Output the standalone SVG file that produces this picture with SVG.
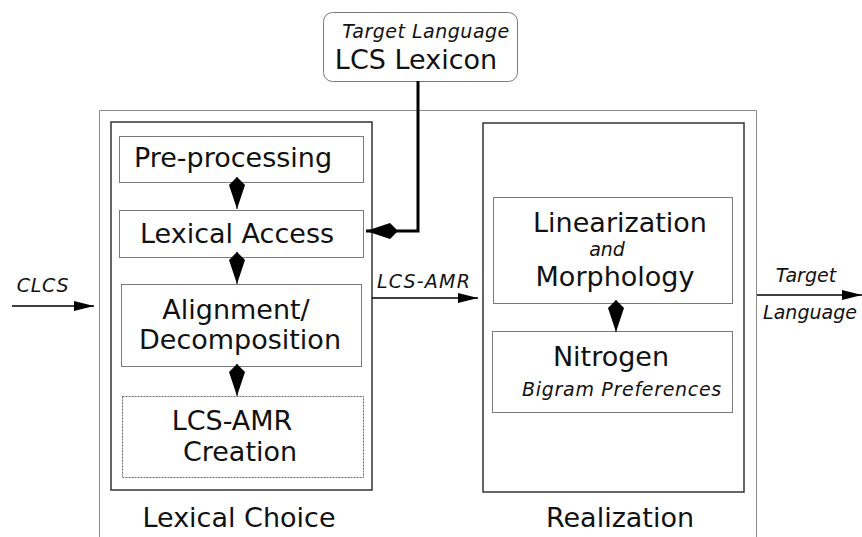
<svg xmlns="http://www.w3.org/2000/svg" width="862" height="537" viewBox="0 0 862 537">
  <style>
    .bg { fill: #ffffff; }
    .frame { fill: none; stroke: #8a8a8a; stroke-width: 1; }
    .stage { fill: none; stroke: #333333; stroke-width: 1.5; }
    .box { fill: #ffffff; stroke: #7a7a7a; stroke-width: 1; }
    .dotbox { fill: #ffffff; stroke: #6a6a6a; stroke-width: 1; stroke-dasharray: 2 1; }
    .t { font-family: "DejaVu Sans", Verdana, sans-serif; font-size: 27px; fill: #111111; text-anchor: middle; }
    .it { font-family: "DejaVu Sans", Verdana, sans-serif; font-style: italic; font-size: 19px; fill: #111111; text-anchor: middle; }
    .flow { fill: none; stroke: #000000; stroke-width: 1.5; }
    .feed { fill: none; stroke: #000000; stroke-width: 3; }
    .vlink { fill: none; stroke: #000000; stroke-width: 1; }
  </style>
  <defs>
    <marker id="tri" markerUnits="userSpaceOnUse" viewBox="0 -6 20 12" refX="20" refY="0" markerWidth="20" markerHeight="12" orient="auto">
      <path d="M0,-5 L20,0 L0,5 Z" fill="#000"/>
    </marker>
    <marker id="kite" markerUnits="userSpaceOnUse" viewBox="0 -8 32 16" refX="32" refY="0" markerWidth="32" markerHeight="16" orient="auto">
      <path d="M32,0 L8,-8 L0,0 L8,8 Z" fill="#000"/>
    </marker>
  </defs>

  <rect class="bg" x="0" y="0" width="862" height="537"/>

  <!-- system frame, open at the bottom -->
  <g id="system-frame">
    <path class="frame" d="M99.5,537 V110.5 H756.5 V537"/>
  </g>

  <!-- external lexicon -->
  <g id="lcs-lexicon">
    <rect class="box" x="323.5" y="12.5" width="194" height="69" rx="9" stroke="#666"/>
    <text class="it" x="426" y="38" letter-spacing="0.5">Target Language</text>
    <text class="t" x="416" y="69">LCS Lexicon</text>
  </g>

  <!-- lexical choice stage -->
  <g id="lexical-choice">
    <rect class="stage" x="111" y="122" width="261" height="368"/>
    <text class="t" x="239" y="527">Lexical Choice</text>
  </g>
  <g id="pre-processing">
    <rect class="box" x="119.5" y="136.5" width="244" height="46"/>
    <text class="t" x="233" y="167">Pre-processing</text>
  </g>
  <g id="lexical-access">
    <rect class="box" x="119.5" y="210.5" width="244" height="47"/>
    <text class="t" x="237" y="243">Lexical Access</text>
  </g>
  <g id="alignment">
    <rect class="box" x="121.5" y="284.5" width="240" height="82"/>
    <text class="t" x="236" y="319">Alignment/</text>
    <text class="t" x="240" y="349">Decomposition</text>
  </g>
  <g id="lcs-amr-creation">
    <rect class="dotbox" x="122.5" y="396.5" width="241" height="81"/>
    <text class="t" x="232" y="430" font-size="26">LCS-AMR</text>
    <text class="t" x="240" y="461" font-size="26">Creation</text>
  </g>

  <!-- realization stage -->
  <g id="realization">
    <rect class="stage" x="483" y="123" width="261" height="369"/>
    <text class="t" x="620" y="527">Realization</text>
  </g>
  <g id="linearization">
    <rect class="box" x="493.5" y="197.5" width="239" height="106"/>
    <text class="t" x="620" y="232">Linearization</text>
    <text class="it" x="607" y="256" font-size="17">and</text>
    <text class="t" x="615" y="286">Morphology</text>
  </g>
  <g id="nitrogen">
    <rect class="box" x="492.5" y="331.5" width="240" height="81"/>
    <text class="t" x="611" y="366">Nitrogen</text>
    <text class="it" x="622" y="396" letter-spacing="0.7">Bigram Preferences</text>
  </g>

  <!-- connectors -->
  <g id="connectors">
    <path class="vlink" d="M237,177 V209" marker-end="url(#kite)"/>
    <path class="vlink" d="M237,252 V284" marker-end="url(#kite)"/>
    <path class="vlink" d="M237,364 V396" marker-end="url(#kite)"/>
    <path class="vlink" d="M616,300 V332" marker-end="url(#kite)"/>
    <path class="feed" d="M418,81 V231 H366" marker-end="url(#kite)"/>
    <path class="flow" d="M12,306 H94" marker-end="url(#tri)"/>
    <path class="flow" d="M372,298 H478" marker-end="url(#tri)"/>
    <path class="flow" d="M757,295 H862" marker-end="url(#tri)"/>
  </g>

  <!-- connector labels -->
  <g id="labels">
    <text class="it" x="43" y="292" letter-spacing="0.7">CLCS</text>
    <text class="it" x="424" y="288" letter-spacing="1.2">LCS-AMR</text>
    <text class="it" x="806" y="282">Target</text>
    <text class="it" x="810" y="319">Language</text>
  </g>
</svg>
